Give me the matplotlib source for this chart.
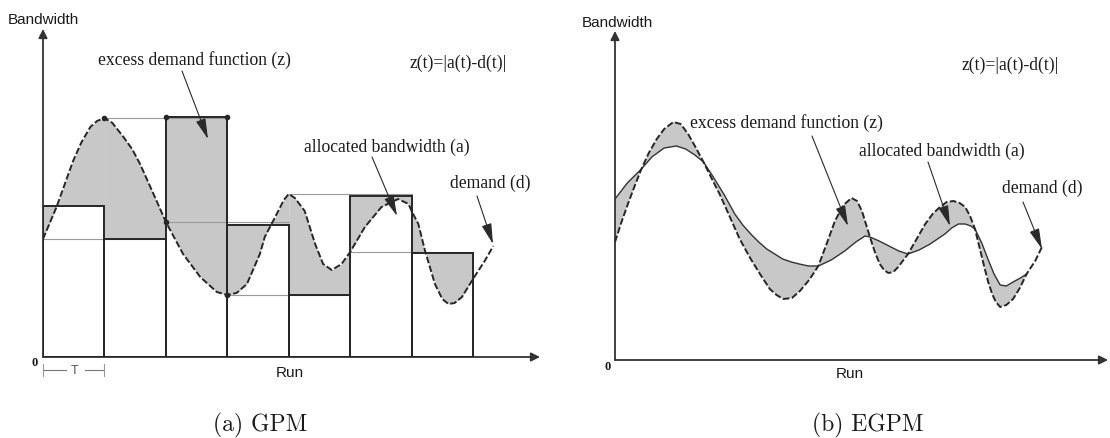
import numpy as np
import matplotlib.pyplot as plt

W, H = 1110, 439
T_PX = 61.43  # pixels per period T

# ---- (a) GPM : demand curve (x in periods T, y in bandwidth units)
gpm_demand_x = [0.00, 0.22, 0.49, 0.62, 0.77, 0.88, 1.00, 1.13, 1.31, 1.45, 1.58, 1.85,
                2.00, 2.28, 2.56, 2.83, 3.00, 3.15, 3.32, 3.53, 3.61, 3.83, 3.92, 4.00,
                4.10, 4.26, 4.43, 4.56, 4.70, 4.86, 5.00, 5.24, 5.51, 5.78, 5.95, 6.00,
                6.11, 6.22, 6.38, 6.50, 6.60, 6.70, 6.82, 7.00, 7.19, 7.33]
gpm_demand_y = [118, 150, 196, 214, 230, 236, 239, 234, 220, 208, 193, 156,
                135, 103, 80, 65, 62, 64, 73, 103, 120, 146, 157, 163,
                159, 146, 113, 93, 87, 93, 105, 130, 150, 158, 153, 146,
                133, 106, 73, 58, 53, 54, 60, 78, 96, 111]
# allocated bandwidth per period
gpm_alloc = [151, 118, 240, 132, 62, 161, 104]

# ---- (b) EGPM : smooth demand and allocated curves
egpm_demand_x = [0.00, 0.10, 0.21, 0.32, 0.43, 0.55, 0.68, 0.80, 0.95, 1.07, 1.19, 1.31,
                 1.44, 1.57, 1.71, 1.87, 2.03, 2.20, 2.36, 2.52, 2.63, 2.74, 2.88, 3.01,
                 3.16, 3.31, 3.45, 3.58, 3.72, 3.85, 3.94, 4.02, 4.08, 4.15, 4.23, 4.31,
                 4.38, 4.45, 4.53, 4.61, 4.77, 4.91, 5.05, 5.17, 5.29, 5.40, 5.51, 5.61,
                 5.70, 5.78, 5.86, 5.94, 6.02, 6.08, 6.14, 6.20, 6.27, 6.37, 6.48, 6.59,
                 6.70, 6.84, 6.95]
egpm_demand_y = [118, 137, 156, 174, 191, 207, 221, 231, 238, 236, 226, 213,
                 198, 182, 165, 143, 121, 102, 86, 71, 65, 61, 62, 69,
                 80, 94, 117, 139, 155, 162, 159, 149, 137, 123, 108, 96,
                 90, 87, 88, 93, 106, 121, 136, 146, 153, 158, 159, 157,
                 153, 144, 131, 111, 91, 77, 66, 58, 53, 55, 61, 72,
                 86, 99, 113]
egpm_alloc_x = [0.00, 0.20, 0.43, 0.60, 0.80, 1.00, 1.15, 1.30, 1.44, 1.60, 1.78, 1.95,
                2.08, 2.21, 2.34, 2.47, 2.60, 2.73, 2.87, 3.00, 3.15, 3.31, 3.52, 3.74,
                3.92, 4.07, 4.15, 4.30, 4.46, 4.62, 4.77, 4.95, 5.13, 5.25, 5.37, 5.48,
                5.59, 5.70, 5.79, 5.86, 5.97, 6.07, 6.17, 6.27, 6.37, 6.48, 6.60, 6.70]
egpm_alloc_y = [161, 177, 191, 203, 212, 214, 211, 205, 198, 183, 165, 146,
                135, 126, 118, 111, 106, 101, 98, 96, 94, 94, 100, 109,
                118, 124, 123, 119, 114, 109, 106, 110, 116, 121, 126, 132,
                136, 136, 134, 131, 117, 101, 86, 75, 74, 78, 82, 86]

GREY = '#c8c8c8'
INK = '#262626'
serif = 'Liberation Serif'
sans = 'Liberation Sans'

fig = plt.figure(figsize=(W / 100, H / 100), dpi=100)


def make_axes(x0, y0, x1, y1):
    # x0,y0 = origin pixel, x1 = end of x arrow, y1 = top of y arrow
    ax = fig.add_axes([x0 / W, (H - y0) / H, (x1 - x0) / W, (y0 - y1) / H])
    ax.set_xlim(0, (x1 - x0) / T_PX)
    ax.set_ylim(0, y0 - y1)
    ax.axis('off')
    arrow = dict(arrowstyle='-|>', color='#333333', lw=1.3, mutation_scale=13,
                 shrinkA=0, shrinkB=0)
    ax.annotate('', xy=(1, 0), xytext=(0, 0), xycoords='axes fraction', arrowprops=arrow)
    ax.annotate('', xy=(0, 1), xytext=(0, 0), xycoords='axes fraction', arrowprops=arrow)
    return ax


def label(x, y, s, size=12.7, family=serif, ha='center', color='#1a1a1a', **kw):
    fig.text(x / W, 1 - y / H, s, fontsize=size, family=family, ha=ha, va='center',
             color=color, **kw)


def pointer(x0, y0, x1, y1):
    fig.add_artist(plt.matplotlib.patches.FancyArrowPatch(
        (x0 / W, 1 - y0 / H), (x1 / W, 1 - y1 / H), transform=fig.transFigure,
        arrowstyle='-|>,head_length=0.9,head_width=0.22', mutation_scale=14,
        color='#2a2a2a', lw=0.8, shrinkA=0, shrinkB=0))


# ================= (a) GPM =================
axL = make_axes(43, 358, 540, 30)
dx = np.array(gpm_demand_x)
dy = np.array(gpm_demand_y)
periods = np.arange(len(gpm_alloc))

axL.bar(periods, gpm_alloc, width=1, align='edge', color='white', lw=0, zorder=1)
for k, h in enumerate(gpm_alloc):
    m = (dx >= k) & (dx <= k + 1)
    axL.fill_between(dx[m], dy[m], h, color=GREY, lw=0, zorder=2)

def d_at(k):
    return dy[np.isclose(dx, k)][0]

for k in range(6):
    axL.plot([k, k + 2], [d_at(k)] * 2, color='#9a9a9a', lw=0.8, zorder=2.5)

axL.bar(periods, gpm_alloc, width=1, align='edge', fill=False,
        edgecolor=INK, lw=1.4, zorder=3)
axL.plot(dx, dy, color=INK, lw=1.4, dashes=(3.4, 1.3), zorder=4)
axL.plot([1, 2, 3, 2, 3], [d_at(1), gpm_alloc[2], gpm_alloc[2], d_at(2), d_at(3)],
         'o', color=INK, ms=3, zorder=5)

# T bracket
axL.plot([0, 0.37], [-13, -13], color='#777777', lw=0.8, clip_on=False)
axL.plot([0.68, 1], [-13, -13], color='#777777', lw=0.8, clip_on=False)
axL.plot([0, 0], [-7, -19], color='#999999', lw=0.8, clip_on=False)
axL.plot([1, 1], [-7, -19], color='#999999', lw=0.8, clip_on=False)
label(75, 371, 'T', size=9, family=sans, color='#555555')

label(8, 20, 'Bandwidth', size=11, family=sans, ha='left')
label(290, 373, 'Run', size=11, family=sans)
label(35, 363, '0', size=9, weight='bold')
label(194, 60, 'excess demand function (z)')
label(458, 63, 'z(t)=|a(t)-d(t)|')
label(387, 147, 'allocated bandwidth (a)')
label(490, 183, 'demand (d)')
pointer(182, 72, 208, 140)
pointer(372, 158, 397, 217)
pointer(477, 197, 493, 245)

# ================= (b) EGPM =================
axR = make_axes(615, 361, 1108, 32)
rdx = np.array(egpm_demand_x)
rdy = np.array(egpm_demand_y)
rax = np.array(egpm_alloc_x)
ray = np.array(egpm_alloc_y)
n = int(np.sum(rdx <= rax[-1] + 1e-9))
axR.fill(np.concatenate([rdx[:n], rax[::-1]]), np.concatenate([rdy[:n], ray[::-1]]),
         color=GREY, lw=0, zorder=1)
axR.plot(rax, ray, color='#333333', lw=1.0, zorder=3)
axR.plot(rdx, rdy, color=INK, lw=1.4, dashes=(3.4, 1.3), zorder=4)

label(582, 23, 'Bandwidth', size=11, family=sans, ha='left')
label(850, 374, 'Run', size=11, family=sans)
label(608, 367, '0', size=9, weight='bold')
label(1010, 65, 'z(t)=|a(t)-d(t)|')
label(786, 123, 'excess demand function (z)')
label(942, 151, 'allocated bandwidth (a)')
label(1042, 188, 'demand (d)')
pointer(812, 137, 848, 227)
pointer(928, 163, 950, 227)
pointer(1023, 203, 1042, 250)

# captions
label(260, 425, '(a) GPM', size=17, family='cmr10')
label(868, 425, '(b) EGPM', size=17, family='cmr10')

fig.savefig('out.png', dpi=100, facecolor='white')
